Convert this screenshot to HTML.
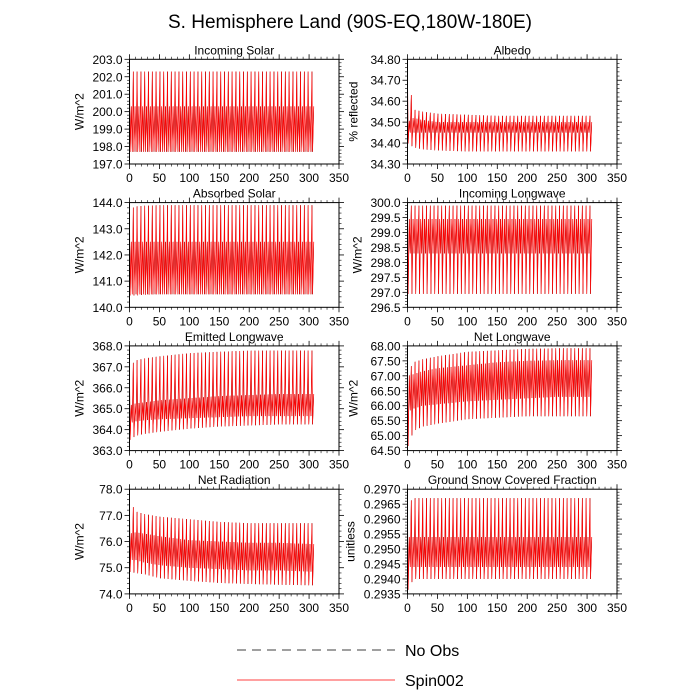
<!DOCTYPE html>
<html><head><meta charset="utf-8"><style>
body{margin:0;background:#fff}
svg{display:block;font-family:"Liberation Sans",sans-serif}
</style></head><body>
<svg id="c" width="700" height="700" viewBox="0 0 700 700">
<text x="350" y="28" font-size="19" text-anchor="middle">S. Hemisphere Land (90S-EQ,180W-180E)</text>
<g>
<line x1="237" y1="650" x2="395" y2="650" stroke="#000" stroke-width="0.8" stroke-dasharray="9,6"/>
<text x="405" y="656" font-size="16">No Obs</text>
<line x1="237" y1="680" x2="395" y2="680" stroke="#f00" stroke-width="0.8"/>
<text x="405" y="686" font-size="16">Spin002</text>
</g>
</svg>
<script>
// Shared data
const xTicks = [0,50,100,150,200,250,300,350];
const anchorX = [0,10,25,50,100,150,200,250,305];
const cycleLen = 6.35;
const lastX = 308;
// Panel titles / axis
const titles = ["Incoming Solar","Albedo","Absorbed Solar","Incoming Longwave","Emitted Longwave","Net Longwave","Net Radiation","Ground Snow Covered Fraction"];
const yTitles = ["W/m^2","% reflected","W/m^2","W/m^2","W/m^2","W/m^2","W/m^2","unitless"];
const yMins = [197,34.3,140,296.5,363,64.5,74,0.2935];
const yMaxs = [203,34.8,144,300,368,68,78,0.2970];
const ySteps = [1,0.1,1,0.5,1,0.5,1,0.0005];
const yDecs = [1,2,1,1,1,2,1,4];
// Envelope levels at anchorX: hi, m1, m2, lo
const hiVals = [
 [202.3,202.3,202.3,202.3,202.3,202.3,202.3,202.3,202.3],
 [34.75,34.56,34.55,34.54,34.535,34.53,34.53,34.53,34.53],
 [143.75,143.85,143.88,143.9,143.9,143.9,143.9,143.9,143.9],
 [299.9,299.9,299.9,299.9,299.9,299.9,299.9,299.9,299.9],
 [367.0,367.3,367.4,367.5,367.65,367.72,367.77,367.78,367.78],
 [67.1,67.45,67.55,67.65,67.8,67.85,67.9,67.92,67.92],
 [77.6,77.15,77.05,76.95,76.85,76.75,76.7,76.7,76.7],
 [0.2965,0.2967,0.2967,0.2967,0.2967,0.2967,0.2967,0.2967,0.2967]];
const m1Vals = [
 [200.3,200.3,200.3,200.3,200.3,200.3,200.3,200.3,200.3],
 [34.5,34.52,34.51,34.5,34.5,34.5,34.5,34.5,34.5],
 [142.5,142.5,142.5,142.5,142.5,142.5,142.5,142.5,142.5],
 [299.45,299.45,299.45,299.45,299.45,299.45,299.45,299.45,299.45],
 [365.15,365.25,365.3,365.4,365.5,365.6,365.65,365.7,365.7],
 [67.0,67.05,67.15,67.25,67.35,67.45,67.5,67.52,67.52],
 [76.3,76.35,76.3,76.2,76.05,76.0,75.95,75.95,75.9],
 [0.2954,0.2954,0.2954,0.2954,0.2954,0.2954,0.2954,0.2954,0.2954]];
const m2Vals = [
 [197.7,197.7,197.7,197.7,197.7,197.7,197.7,197.7,197.7],
 [34.45,34.45,34.45,34.45,34.45,34.45,34.45,34.45,34.45],
 [140.5,140.5,140.5,140.5,140.5,140.5,140.5,140.5,140.5],
 [298.3,298.3,298.3,298.3,298.3,298.3,298.3,298.3,298.3],
 [364.3,364.4,364.45,364.5,364.55,364.6,364.65,364.65,364.65],
 [65.8,65.9,66.0,66.05,66.15,66.2,66.25,66.3,66.3],
 [75.3,75.3,75.2,75.1,75.0,74.95,74.9,74.9,74.85],
 [0.2944,0.2944,0.2944,0.2944,0.2944,0.2944,0.2944,0.2944,0.2944]];
const loVals = [
 [197.7,197.7,197.7,197.7,197.7,197.7,197.7,197.7,197.7],
 [34.40,34.38,34.37,34.365,34.36,34.36,34.36,34.36,34.36],
 [140.45,140.45,140.48,140.5,140.5,140.5,140.5,140.5,140.5],
 [296.95,296.95,296.95,296.95,296.95,296.95,296.95,296.95,296.95],
 [363.5,363.7,363.8,363.9,364.05,364.15,364.2,364.25,364.25],
 [64.6,65.15,65.3,65.4,65.55,65.6,65.65,65.65,65.65],
 [74.85,74.8,74.75,74.6,74.5,74.42,74.38,74.35,74.33],
 [0.2936,0.2940,0.2940,0.2940,0.2940,0.2940,0.2940,0.2940,0.2940]];

const NS="http://www.w3.org/2000/svg";
const svg=document.getElementById('c');
function mk(tag,attrs,parent){const e=document.createElementNS(NS,tag);for(const k in attrs)e.setAttribute(k,attrs[k]);(parent||svg).appendChild(e);return e;}
function env(arr,x){for(let i=0;i<anchorX.length-1;i++){if(x<=anchorX[i+1]){const t=(x-anchorX[i])/(anchorX[i+1]-anchorX[i]);return arr[i]+(arr[i+1]-arr[i])*t;}}return arr[arr.length-1];}
const colX=[129.5,407.5], pw=209.5, rowY=[59.3,202.6,345.9,489.2], ph=104.7;

for(let p=0;p<8;p++){
  const L=colX[p%2], T=rowY[Math.floor(p/2)];
  const g=mk('g',{});
  
  
  const xs=v=>L+v/350*pw;
  const ys=v=>T+ph-(v-yMins[p])/(yMaxs[p]-yMins[p])*ph;
  function series(color,phase,width,name){
    let d='';let first=true;
    for(let c=0;;c++){
      const t0=c*cycleLen+phase; if(t0>lastX)break;
      const pts=[[t0,hiVals[p]],[t0+1,loVals[p]],[t0+3,m1Vals[p]],[t0+4.6,m2Vals[p]]];
      for(const [x,a] of pts){ if(x>lastX||x<0)continue; d+=(first?'M':'L')+xs(x).toFixed(2)+','+ys(env(a,x)).toFixed(2);first=false;}
    }
    const path=mk('path',{d:d,fill:'none',stroke:color,'stroke-width':width},g);
    
    
  }
  series('#000',0.05,0.4,'series-no-obs');
  series('#f00',0,0.7,'series-spin002');
  const fr=mk('rect',{x:L,y:T,width:pw,height:ph,fill:'none',stroke:'#000','stroke-width':1},g);
  
  
  for(let i=0;i<xTicks.length;i++){
    const x=xs(xTicks[i]);
    mk('line',{x1:x,y1:T+ph,x2:x,y2:T+ph+5,stroke:'#000','stroke-width':0.8},g);
    mk('line',{x1:x,y1:T,x2:x,y2:T-5,stroke:'#000','stroke-width':0.8},g);
    const tl=mk('text',{x:x,y:T+ph+18,'font-size':12,'text-anchor':'middle'},g);
    tl.textContent=xTicks[i];
    
    
    if(i<xTicks.length-1)for(let k=1;k<5;k++){const xm=xs(xTicks[i]+k*10);
      mk('line',{x1:xm,y1:T+ph,x2:xm,y2:T+ph+2.5,stroke:'#000','stroke-width':0.6},g);
      mk('line',{x1:xm,y1:T,x2:xm,y2:T-2.5,stroke:'#000','stroke-width':0.6},g);}
  }
  const n=Math.round((yMaxs[p]-yMins[p])/ySteps[p]);
  for(let i=0;i<=n;i++){
    const v=yMins[p]+i*ySteps[p], y=ys(v);
    mk('line',{x1:L,y1:y,x2:L-5,y2:y,stroke:'#000','stroke-width':0.8},g);
    mk('line',{x1:L+pw,y1:y,x2:L+pw+5,y2:y,stroke:'#000','stroke-width':0.8},g);
    const tl=mk('text',{x:L-7,y:y+4.5,'font-size':12,'text-anchor':'end'},g);
    tl.textContent=v.toFixed(yDecs[p]);
    
    
    if(i<n)for(let k=1;k<5;k++){const ym=ys(v+k*ySteps[p]/5);
      mk('line',{x1:L,y1:ym,x2:L-2.5,y2:ym,stroke:'#000','stroke-width':0.6},g);
      mk('line',{x1:L+pw,y1:ym,x2:L+pw+2.5,y2:ym,stroke:'#000','stroke-width':0.6},g);}
  }
  const tt=mk('text',{x:L+pw/2,y:T-5,'font-size':12,'text-anchor':'middle'},g);
  tt.textContent=titles[p];
  
  
  const yx=L-(yDecs[p]===4?53:(yDecs[p]===2?50:46));
  const yt=mk('text',{x:yx,y:T+ph/2,'font-size':12,'text-anchor':'middle',transform:'rotate(-90 '+yx+' '+(T+ph/2)+')'},g);
  yt.textContent=yTitles[p];
  
  
}
</script>
</body></html>
